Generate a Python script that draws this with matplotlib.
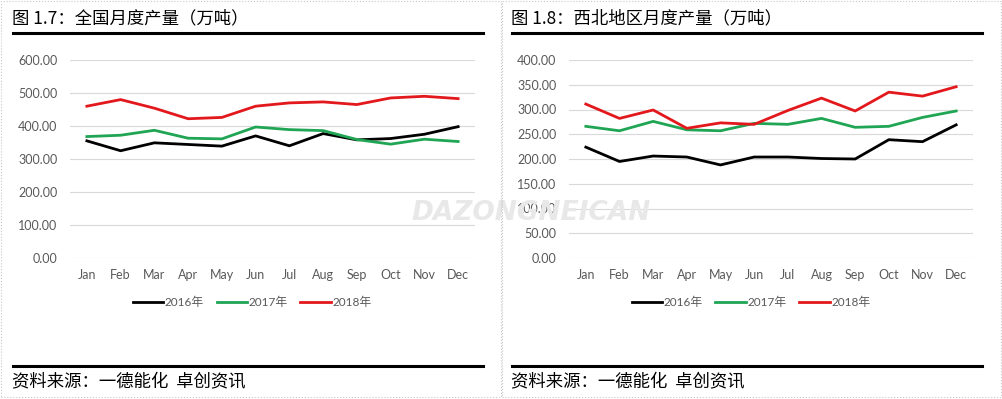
import matplotlib
matplotlib.use("Agg")
import matplotlib.pyplot as plt
from matplotlib.patches import Rectangle
from matplotlib.lines import Line2D

plt.rcParams['font.family'] = ['Lato', 'Noto Sans CJK SC', 'DejaVu Sans']

# 数据
months = ["Jan", "Feb", "Mar", "Apr", "May", "Jun", "Jul", "Aug", "Sep", "Oct", "Nov", "Dec"]
years = ["2016年", "2017年", "2018年"]

national_2016 = [355, 325, 349, 344, 339, 370, 340, 377, 358, 362, 375, 398]
national_2017 = [368, 372, 387, 363, 361, 397, 389, 386, 359, 345, 360, 353]
national_2018 = [460, 480, 454, 422, 426, 460, 470, 473, 465, 485, 490, 483]

northwest_2016 = [224, 195, 206, 204, 188, 204, 204, 201, 200, 239, 235, 269]
northwest_2017 = [266, 257, 276, 259, 257, 272, 270, 282, 264, 266, 284, 297]
northwest_2018 = [311, 282, 299, 262, 273, 270, 298, 323, 297, 335, 327, 346]

colors = ["#000000", "#1fa553", "#e3181c"]
W, H = 1003, 399

fig = plt.figure(figsize=(W / 100, H / 100), dpi=100)


def fx(px):
    return px / W


def fy(py):
    return 1 - py / H


def panel(x0, x1, title, rule_x0, rule_x1, ax_left, ax_right, series, ymax, ystep, legend_cx):
    # 虚线边框
    fig.patches.append(Rectangle((fx(x0), fy(397)), fx(x1 - x0), (397 - 1) / H,
                                 transform=fig.transFigure, fill=False,
                                 edgecolor="#c8c8c8", linestyle=":", linewidth=0.8))
    # 标题
    fig.text(fx(rule_x0 - 1), fy(18), title, fontsize=12.5, va="center", ha="left",
             family=['Noto Sans CJK SC', 'DejaVu Sans'], color="#000000")
    fig.add_artist(Line2D([fx(rule_x0), fx(rule_x1)], [fy(33), fy(33)],
                          transform=fig.transFigure, color="black", linewidth=2.2))
    # 来源
    fig.add_artist(Line2D([fx(rule_x0), fx(rule_x1)], [fy(366), fy(366)],
                          transform=fig.transFigure, color="black", linewidth=2.2))
    fig.text(fx(rule_x0 - 1), fy(381), "资料来源：一德能化  卓创资讯", fontsize=12.5, va="center",
             ha="left", family=['Noto Sans CJK SC', 'DejaVu Sans'], color="#000000")

    ax = fig.add_axes([fx(ax_left), fy(258), fx(ax_right - ax_left), (258 - 60) / H])
    x = list(range(len(months)))
    handles = []
    for vals, c, lab in zip(series, colors, years):
        h, = ax.plot(x, vals, color=c, linewidth=2.0, label=lab, solid_joinstyle="round")
        handles.append(h)
    ax.set_xlim(-0.5, 11.5)
    ax.set_ylim(0, ymax)
    ticks = [i * ystep for i in range(int(round(ymax / ystep)) + 1)]
    ax.set_yticks(ticks)
    ax.set_yticklabels([f"{t:.2f}" for t in ticks])
    ax.set_xticks(x)
    ax.set_xticklabels(months)
    ax.grid(axis="y", color="#d9d9d9", linewidth=0.8)
    ax.set_axisbelow(True)
    for s in ax.spines.values():
        s.set_visible(False)
    ax.tick_params(axis="both", length=0, labelsize=9, colors="#595959")
    ax.tick_params(axis="y", pad=9)
    ax.tick_params(axis="x", pad=8)
    ax.patch.set_alpha(0)

    fig.legend(handles=handles, loc="center", bbox_to_anchor=(fx(legend_cx), fy(302)),
               ncol=3, frameon=False, fontsize=8.5, handlelength=2.6, handletextpad=0.1,
               columnspacing=1.1, labelcolor="#595959")
    return ax


# 水印
fig.text(fx(531), fy(213), "DAZONGNEICAN", fontsize=19, fontweight="bold", style="italic",
         color="#e8e8e8", ha="center", va="center", family="DejaVu Sans", zorder=0)

panel(1, 501, "图 1.7：全国月度产量（万吨）", 13, 483, 70, 475,
      [national_2016, national_2017, national_2018], 600, 100, 252)
panel(502, 1001, "图 1.8：西北地区月度产量（万吨）", 512, 982, 569, 973,
      [northwest_2016, northwest_2017, northwest_2018], 400, 50, 751)

fig.savefig("out.png", dpi=100)
